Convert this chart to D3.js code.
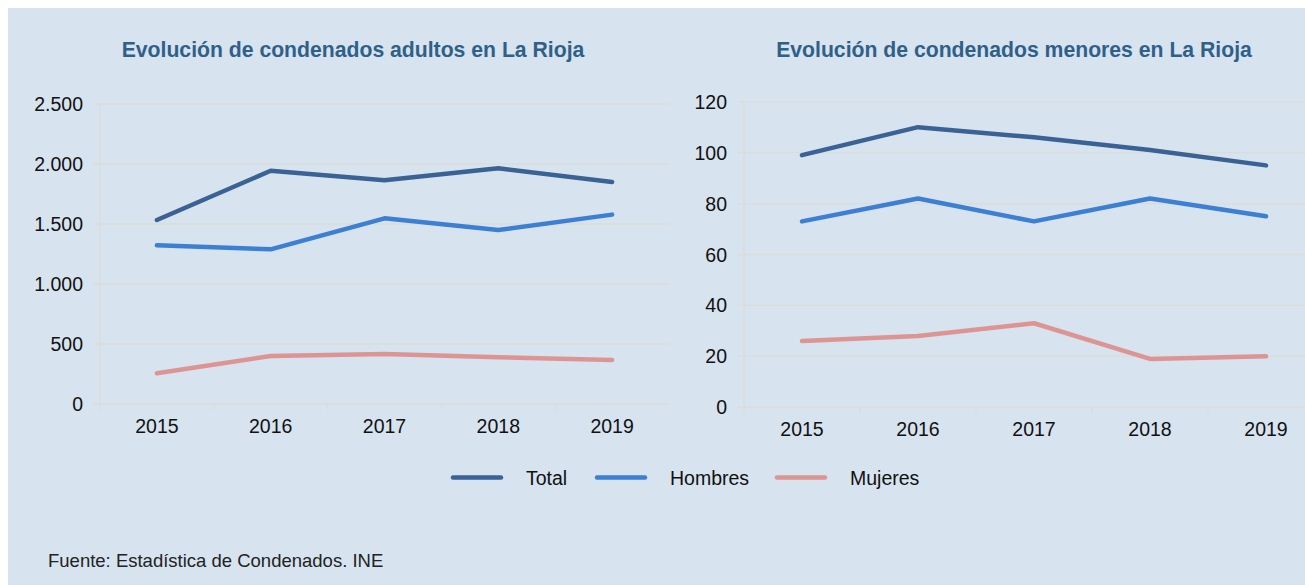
<!DOCTYPE html>
<html>
<head>
<meta charset="utf-8">
<script src="https://cdn.jsdelivr.net/npm/d3@7"></script>
<style>
  body { margin: 0; background: #ffffff; }
  svg { display: block; font-family: "Liberation Sans", Arial, sans-serif; }
</style>
</head>
<body>
<svg id="chart" width="1305" height="585"></svg>
<script>
var years = ["2015", "2016", "2017", "2018", "2019"];
var seriesNames = ["Total", "Hombres", "Mujeres"];
var seriesColors = ["#3a6295", "#3d7fd3", "#dd9594"];

var adultosTotal = [1533, 1944, 1864, 1964, 1850];
var adultosHombres = [1322, 1289, 1547, 1450, 1578];
var adultosMujeres = [256, 400, 417, 389, 367];

var menoresTotal = [99, 110, 106, 101, 95];
var menoresHombres = [73, 82, 73, 82, 75];
var menoresMujeres = [26, 28, 33, 19, 20];

var adultosTicks = [0, 500, 1000, 1500, 2000, 2500];
var menoresTicks = [0, 20, 40, 60, 80, 100, 120];

var svg = d3.select("#chart");

// panel background
svg.append("rect")
    .attr("x", 8)
    .attr("y", 8)
    .attr("width", 1297)
    .attr("height", 577)
    .attr("fill", "#d7e3ef");

var fmt = d3.formatLocale({decimal: ",", thousands: ".", grouping: [3], currency: ["", "€"]}).format(",");

function drawPanel(opts) {
    var x = d3.scaleBand()
        .domain(years)
        .range([opts.left, opts.right]);

    var y = d3.scaleLinear()
        .domain([0, opts.max])
        .range([opts.bottom, opts.top]);

    var g = svg.append("g");

    // gridlines
    g.append("g")
        .selectAll("line")
        .data(opts.ticks)
        .enter().append("line")
        .attr("x1", opts.left - 6)
        .attr("x2", opts.right)
        .attr("y1", function (d) { return y(d); })
        .attr("y2", function (d) { return y(d); })
        .attr("stroke", "#dcdcd8")
        .attr("stroke-width", 1.3);

    // y axis line
    g.append("line")
        .attr("x1", opts.left)
        .attr("x2", opts.left)
        .attr("y1", opts.top)
        .attr("y2", opts.bottom + 6)
        .attr("stroke", "#dcdcd8")
        .attr("stroke-width", 1.3);

    // x ticks between categories
    g.append("g")
        .selectAll("line")
        .data(years.slice(1))
        .enter().append("line")
        .attr("x1", function (d) { return x(d); })
        .attr("x2", function (d) { return x(d); })
        .attr("y1", opts.bottom)
        .attr("y2", opts.bottom + 6)
        .attr("stroke", "#dcdcd8")
        .attr("stroke-width", 1.3);

    // y labels
    g.append("g")
        .selectAll("text")
        .data(opts.ticks)
        .enter().append("text")
        .attr("x", opts.left - 17)
        .attr("y", function (d) { return y(d); })
        .attr("dy", "0.36em")
        .attr("text-anchor", "end")
        .attr("fill", "#111")
        .style("font-size", "19.5px")
        .text(function (d) { return fmt(d); });

    // x labels
    g.append("g")
        .selectAll("text")
        .data(years)
        .enter().append("text")
        .attr("x", function (d) { return x(d) + x.bandwidth() / 2; })
        .attr("y", opts.bottom + 29)
        .attr("text-anchor", "middle")
        .attr("fill", "#111")
        .style("font-size", "19.5px")
        .text(function (d) { return d; });

    // title
    g.append("text")
        .attr("x", opts.titleX)
        .attr("y", 57)
        .attr("text-anchor", "middle")
        .attr("fill", "#2f6088")
        .style("font-size", "21.2px")
        .style("font-weight", "bold")
        .text(opts.title);

    var line = d3.line()
        .x(function (d, i) { return x(years[i]) + x.bandwidth() / 2; })
        .y(function (d) { return y(d); });

    g.append("g")
        .selectAll("path")
        .data(opts.series)
        .enter().append("path")
        .attr("d", function (d) { return line(d); })
        .attr("fill", "none")
        .attr("stroke", function (d, i) { return seriesColors[i]; })
        .attr("stroke-width", 4.5)
        .attr("stroke-linecap", "round")
        .attr("stroke-linejoin", "round");
}

drawPanel({
    left: 100, right: 669, top: 104, bottom: 404,
    max: 2500, ticks: adultosTicks,
    titleX: 353,
    title: "Evolución de condenados adultos en La Rioja",
    series: [adultosTotal, adultosHombres, adultosMujeres]
});

drawPanel({
    left: 744, right: 1324, top: 101.7, bottom: 407.3,
    max: 120, ticks: menoresTicks,
    titleX: 1014,
    title: "Evolución de condenados menores en La Rioja",
    series: [menoresTotal, menoresHombres, menoresMujeres]
});

// legend
var legendX = [453, 597, 777];
var legend = svg.append("g")
    .selectAll("g")
    .data(seriesNames)
    .enter().append("g")
    .attr("transform", function (d, i) { return "translate(" + legendX[i] + ",477.5)"; });

legend.append("line")
    .attr("x1", 0)
    .attr("x2", 48)
    .attr("stroke", function (d, i) { return seriesColors[i]; })
    .attr("stroke-width", 4.5)
    .attr("stroke-linecap", "round");

legend.append("text")
    .attr("x", 73)
    .attr("dy", "0.36em")
    .attr("fill", "#111")
    .style("font-size", "19.5px")
    .text(function (d) { return d; });

svg.append("text")
    .attr("x", 48)
    .attr("y", 567)
    .attr("fill", "#222")
    .style("font-size", "18.5px")
    .text("Fuente: Estadística de Condenados. INE");
</script>
</body>
</html>
